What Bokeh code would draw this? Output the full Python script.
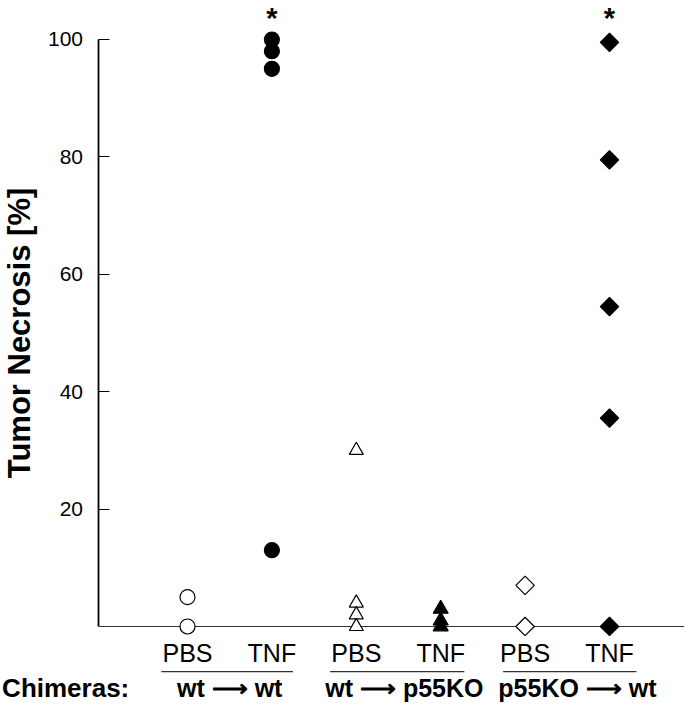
from bokeh.plotting import figure
from bokeh.models import Range1d, FixedTicker, LinearAxis
from bokeh.core.properties import value
from bokeh.embed import file_html
from bokeh.resources import INLINE

# ---------------- data ----------------
categories = ["PBS", "TNF", "PBS", "TNF", "PBS", "TNF"]
cat_pos = [1, 2, 3, 4, 5, 6]
groups = ["wt ⟶ wt", "wt ⟶ p55KO", "p55KO ⟶ wt"]
group_title = "Chimeras:"

wt_wt_pbs = [5, 0]
wt_wt_tnf = [100, 98, 95, 13]
wt_ko_pbs = [30, 4, 2, 0]
wt_ko_tnf = [3, 1, 0]
ko_wt_pbs = [7, 0]
ko_wt_tnf = [99.5, 79.5, 54.5, 35.5, 0]

y_ticks = [20, 40, 60, 80, 100]
starred = [2, 6]
y_label = "Tumor Necrosis [%]"

# ---------------- layout / style constants ----------------
FONT = "Liberation Sans"
W, H = 684, 704
PX_X, PX_Y = 84.4, 5.87          # pixels per data unit
X_MIN = -1.2156
X_MAX = X_MIN + W / PX_X
Y_MAX = 106.64
Y_MIN = Y_MAX - H / PX_Y
AXIS_X = -0.0486
LABEL_Y = -4.5
UNDERLINE_Y = -7.7
GROUP_Y = -10.5

p = figure(width=W, height=H,
           x_range=Range1d(X_MIN, X_MAX), y_range=Range1d(Y_MIN, Y_MAX),
           output_backend="svg", toolbar_location=None,
           x_axis_type=None, y_axis_type=None,
           min_border_left=0, min_border_right=0, min_border_top=0, min_border_bottom=0)
p.outline_line_color = None
p.background_fill_color = "white"

ax = LinearAxis(fixed_location=AXIS_X)
ax.ticker = FixedTicker(ticks=y_ticks)
ax.bounds = (0, 100)
ax.major_tick_in = 11
ax.major_tick_out = 0
ax.minor_tick_line_color = None
ax.axis_line_width = 1.8
ax.major_tick_line_width = 1.2
ax.major_label_text_font = FONT
ax.major_label_text_font_size = "21px"
ax.major_label_text_color = "black"
ax.major_label_standoff = 16
ax.axis_label = y_label
ax.axis_label_text_font = FONT
ax.axis_label_text_font_style = "bold"
ax.axis_label_text_font_size = "31px"
ax.axis_label_text_color = "black"
ax.axis_label_standoff = 7
p.add_layout(ax, "left")

# baseline at 0, starting at the y axis
p.segment(x0=[AXIS_X], y0=[0], x1=[X_MAX], y1=[0], line_color="#333333", line_width=1.2)

series = [
    (cat_pos[0], wt_wt_pbs, "circle", "white", 15, 0),
    (cat_pos[1], wt_wt_tnf, "circle", "black", 15, 0),
    (cat_pos[2], wt_ko_pbs, "triangle", "white", 14, 0),
    (cat_pos[3], wt_ko_tnf, "triangle", "black", 15, 0),
    (cat_pos[4], ko_wt_pbs, "square", "white", 13, 0.785398),
    (cat_pos[5], ko_wt_tnf, "square", "black", 13, 0.785398),
]
for x, vals, mk, fill, size, ang in series:
    p.scatter(x=[x] * len(vals), y=vals, marker=mk, size=size, angle=ang,
              fill_color=fill, line_color="black", line_width=1.2)

# significance stars
p.text(x=starred, y=[Y_MAX] * len(starred), text=["*"] * len(starred),
       text_align="center", text_baseline="top", y_offset=1,
       text_font=value(FONT), text_font_style="bold", text_font_size="29px",
       text_color="black")

# category labels
p.text(x=cat_pos, y=[LABEL_Y] * len(cat_pos), text=categories,
       text_align="center", text_baseline="middle",
       text_font=value(FONT), text_font_size="25px", text_color="black")

# underlines for groups
x0 = [cat_pos[0] - 0.31, cat_pos[2] - 0.31, cat_pos[4] - 0.26]
x1 = [cat_pos[1] + 0.25, cat_pos[3] + 0.28, cat_pos[5] + 0.32]
p.segment(x0=x0, y0=[UNDERLINE_Y] * 3, x1=x1, y1=[UNDERLINE_Y] * 3,
          line_color="#333333", line_width=1.2)

# group labels
gx = [(cat_pos[0] + cat_pos[1]) / 2, (cat_pos[2] + cat_pos[3]) / 2 + 0.07,
      (cat_pos[4] + cat_pos[5]) / 2 + 0.12]
p.text(x=gx, y=[GROUP_Y] * 3, text=groups,
       text_align="center", text_baseline="middle",
       text_font=value(FONT), text_font_style="bold", text_font_size="25px",
       text_color="black")

p.text(x=[0.31], y=[GROUP_Y], text=[group_title], text_align="right",
       text_baseline="middle", text_font=value(FONT), text_font_style="bold",
       text_font_size="26px", text_color="black")

open("out.html", "w").write(file_html(p, INLINE))
